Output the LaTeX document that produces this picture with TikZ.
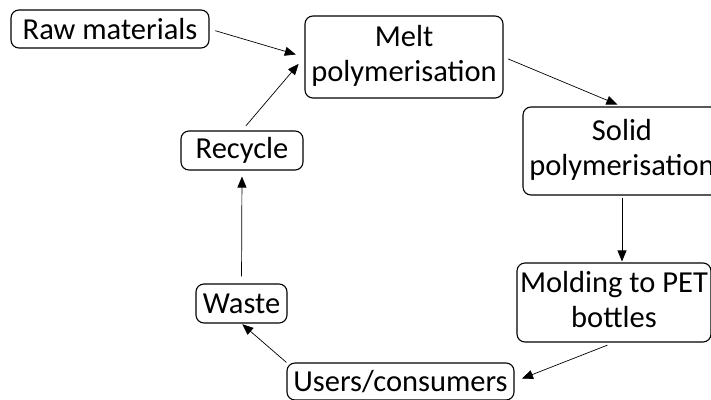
\documentclass[tikz,border=0pt]{standalone}
\usepackage{fontspec}
\setmainfont{Carlito}
\usepackage{tikz}
\usetikzlibrary{arrows.meta}
\usetikzlibrary{positioning}

\begin{document}
\begin{tikzpicture}
    [x=1pt, y=-1pt,
     every node part/.style={align=center},
     stage/.style={draw, rounded corners=8pt, line width=1.1pt, inner sep=2pt,
       font=\fontsize{30.5}{35}\selectfont},
     flow/.style={-{Triangle[length=11pt, width=9pt]}, line width=0.7pt}]
    \useasboundingbox [fill=white] (0, 0) rectangle (711, 399);

    \node (raw) [stage, minimum width=198, minimum height=38] at (110, 29) {Raw materials};
    \node (melt) [stage, minimum width=198, minimum height=82] at (404, 57) {
      \begin{tabular}{@{}c@{}}
        Melt \\
        polymerisation
      \end{tabular}
    };
    \node (solid) [stage, minimum width=198, minimum height=88] at (622, 151) {
      \begin{tabular}{@{}c@{}}
        Solid \\
        polymerisation
      \end{tabular}
    };
    \node (molding) [stage, minimum width=194, minimum height=79] at (614, 302.5) {
      \begin{tabular}{@{}c@{}}
        Molding to PET \\
        bottles
      \end{tabular}
    };
    \node (users) [stage, minimum width=227, minimum height=37] at (400.5, 381.5) {Users/consumers};
    \node (waste) [stage, minimum width=91, minimum height=39] at (241.5, 303.5) {Waste};
    \node (recycle) [stage, minimum width=122, minimum height=39] at (242, 150.5) {Recycle};

    \draw [flow, shorten <= 6pt, shorten >= 9pt] (raw.east) -- (melt.west);
    \draw [flow, shorten <= 6pt, shorten >= 9pt] (recycle.north) -- (melt.west);
    \draw [flow, shorten <= 5pt, shorten >= 5pt] (melt.east) -- (solid.north);
    \draw [flow, shorten <= 2pt, shorten >= 1pt] (solid.south) -- (solid.south |- molding.north);
    \draw [flow, shorten <= 7pt, shorten >= 8pt] (molding.south) -- (users.east);
    \draw [flow, shorten >= 1pt] (users.north west) -- (waste.south);
    \draw [flow, shorten <= 7pt, shorten >= 6pt] (waste.north) -- (recycle.south);
  \end{tikzpicture}
\end{document}
